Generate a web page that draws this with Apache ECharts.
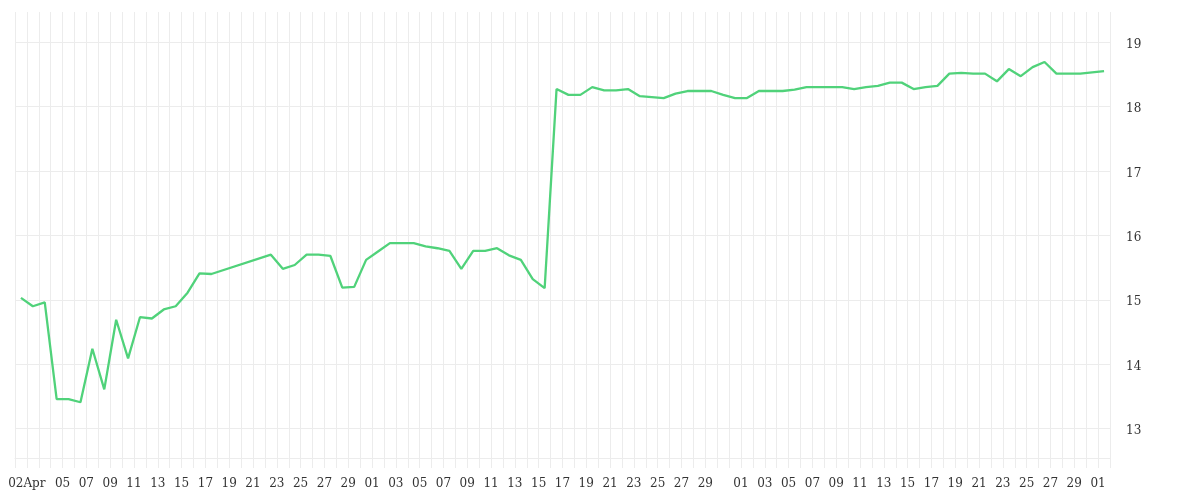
<!DOCTYPE html>
<html>
<head>
<meta charset="utf-8">
<script src="https://cdn.jsdelivr.net/npm/echarts@6/dist/echarts.min.js"></script>
<style>
html,body{margin:0;padding:0;background:#fff;}
#chart{width:1200px;height:500px;}
</style>
</head>
<body>
<div id="chart"></div>
<script>
// Dates: one per day, 2024-04-01 .. 2024-07-01
const startDate = [2024, 4, 1];
const dayCount = 92;
const monthNames = ['Jan','Feb','Mar','Apr','May','Jun','Jul','Aug','Sep','Oct','Nov','Dec'];

const aprilValues = [15.03, 14.90, 14.96, 13.46, 13.46, 13.41, 14.24, 13.61, 14.69, 14.09,
  14.73, 14.71, 14.85, 14.90, 15.11, 15.41, 15.40, null, null, null,
  null, 15.70, 15.48, 15.54, 15.70, 15.70, 15.68, 15.19, 15.20, 15.62];
const mayValues = [15.75, 15.88, 15.88, 15.88, 15.83, 15.80, 15.76, 15.48, 15.76, 15.76,
  15.80, 15.69, 15.62, 15.32, 15.18, 18.27, 18.18, 18.18, 18.30, 18.25,
  18.25, 18.27, 18.16, 18.145, 18.13, 18.20, 18.24, 18.24, 18.24, 18.18, 18.13];
const juneValues = [18.13, 18.24, 18.24, 18.24, 18.26, 18.30, 18.30, 18.30, 18.30, 18.27,
  18.30, 18.32, 18.37, 18.37, 18.27, 18.30, 18.32, 18.51, 18.52, 18.51,
  18.51, 18.39, 18.58, 18.47, 18.61, 18.69, 18.51, 18.51, 18.51, 18.53];
const julyValues = [18.55];

const yTicks = [13, 14, 15, 16, 17, 18, 19];
const yMin = 12.545, yMax = 19.466;

// build categories
const categories = [];
for (let i = 0; i < dayCount; i++) {
  const d = new Date(Date.UTC(startDate[0], startDate[1] - 1, startDate[2] + i));
  const s = d.getUTCFullYear() + '-' + String(d.getUTCMonth() + 1).padStart(2, '0') + '-' + String(d.getUTCDate()).padStart(2, '0');
  categories.push(s);
}
const values = aprilValues.concat(mayValues, juneValues, julyValues);

function tickLabel(cat, idx) {
  const parts = cat.split('-');
  const m = parseInt(parts[1], 10), d = parseInt(parts[2], 10);
  if (idx === 1) return parts[2] + monthNames[m - 1];
  if (idx < 3) return '';
  if (d % 2 === 1 && d !== 31) return parts[2];
  return '';
}

const chart = echarts.init(document.getElementById('chart'), null, {renderer: 'canvas'});
const gridColor = '#ececec';
chart.setOption({
  animation: false,
  backgroundColor: '#ffffff',
  grid: {left: 15, right: 90, top: 12, bottom: 42, containLabel: false},
  xAxis: {
    type: 'category',
    data: categories,
    boundaryGap: true,
    axisLine: {show: true, lineStyle: {color: gridColor, width: 1}},
    axisTick: {show: true, interval: 0, length: 10, lineStyle: {color: gridColor}},
    splitLine: {show: true, interval: 0, lineStyle: {color: gridColor, width: 1}},
    axisLabel: {
      interval: 0,
      margin: 20,
      color: '#333',
      fontFamily: 'DejaVu Serif',
      fontSize: 12,
      padding: [0, 12, 0, 0],
      formatter: function (v, i) { return tickLabel(v, i); }
    }
  },
  yAxis: {
    type: 'value',
    position: 'right',
    min: yMin,
    max: yMax,
    splitNumber: 6,
    axisLine: {show: false},
    axisTick: {show: false},
    splitLine: {show: true, showMinLine: false, showMaxLine: false, lineStyle: {color: gridColor, width: 1}},
    axisLabel: {
      margin: 16,
      color: '#333',
      fontFamily: 'DejaVu Serif',
      fontSize: 12,
      showMinLabel: false,
      showMaxLabel: false,
      rich: {t: {fontFamily: 'DejaVu Serif', fontSize: 12, color: '#333', padding: [5, 0, 0, 0]}},
      formatter: function (v) {
        return yTicks.indexOf(Math.round(v * 1000) / 1000) >= 0 ? '{t|' + v + '}' : '';
      }
    }
  },
  series: [{
    type: 'line',
    data: values,
    connectNulls: true,
    showSymbol: false,
    symbol: 'none',
    lineStyle: {color: '#50d27a', width: 2.3},
    itemStyle: {color: '#50d27a'}
  }]
});
</script>
</body>
</html>
